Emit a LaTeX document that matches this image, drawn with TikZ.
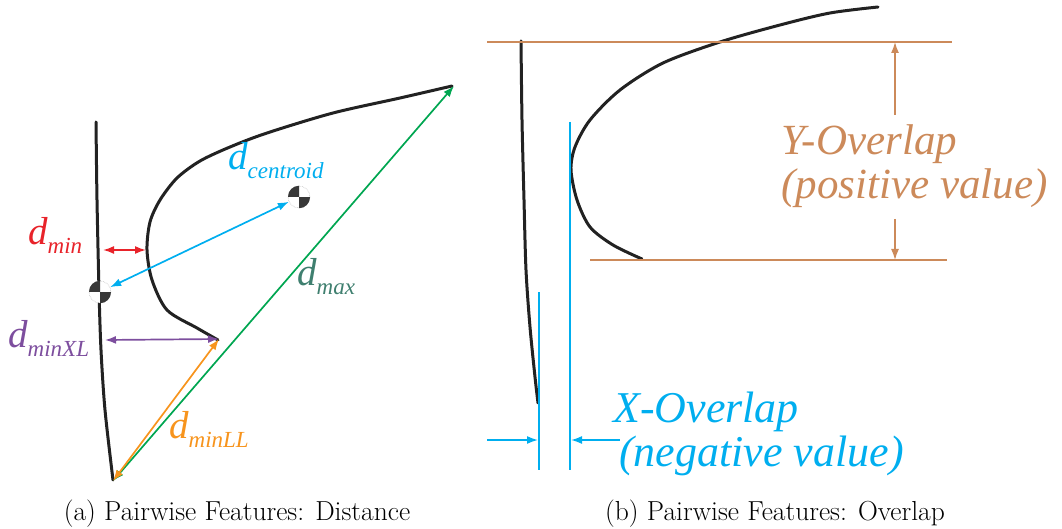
\documentclass[tikz,border=0pt]{standalone}
\usepackage{fontspec}
\usetikzlibrary{arrows.meta}
\newfontfamily\timesf{Liberation Serif}
\definecolor{dred}{HTML}{E8232A}
\definecolor{dcyan}{HTML}{00AEEF}
\definecolor{dgreen}{HTML}{00A651}
\definecolor{dteal}{HTML}{3F7F6F}
\definecolor{dorange}{HTML}{F7941D}
\definecolor{dpurple}{HTML}{7D4E9E}
\definecolor{ybrown}{HTML}{CC8A5A}
\definecolor{ink}{HTML}{222222}
\tikzset{
  stroke/.style={ink,line width=3pt,line cap=round},
  tip/.style={-{Latex[length=11pt,width=8pt]}},
  dim/.style={line width=1.7pt,{Latex[length=11pt,width=8pt]}-{Latex[length=11pt,width=8pt]}},
  lab/.style={anchor=base west,inner sep=0pt,font=\timesf\itshape\fontsize{39}{39}\selectfont},
  ovl/.style={anchor=base west,inner sep=0pt,font=\timesf\itshape\fontsize{#1}{#1}\selectfont},
  capt/.style={anchor=base,inner sep=0pt,font=\fontsize{27.5}{32}\selectfont},
  cmark/.style={circle,minimum size=22pt,inner sep=0pt,draw=gray!70,densely dotted,line width=.5pt,fill=white}
}
\newcommand\dlab[1]{d\raisebox{-9pt}{\fontsize{23}{23}\selectfont #1}}
\newcommand\quads[1]{\fill[ink!90](#1.center)--(#1.north)arc[start angle=90,end angle=180,radius=11pt]--cycle;
  \fill[ink!90](#1.center)--(#1.south)arc[start angle=270,end angle=360,radius=11pt]--cycle;}
\begin{document}
\begin{tikzpicture}[x=1pt,y=-1pt]
\useasboundingbox(0,0)rectangle(1062,529);
% (a) distance
\draw[stroke]plot[smooth]coordinates{(96,122)(97,200)(99,290)(101,350)(105,410)(113,480)};
\draw[stroke]plot[smooth]coordinates{(218,340)(197,328)(167,310)(152,280)(147,250)(150,222)(160,200)(177,178)(200,161)(230,147)(267,133)(333,113)(400,98)(452,86)};
\node[cmark](cA)at(100,292){};\quads{cA}
\node[cmark](cB)at(299,197){};\quads{cB}
\coordinate(minL)at(103,250);\coordinate(minR)at(146,250);
\coordinate(tipB)at(219,339);\coordinate(botA)at(113,481);\coordinate(topB)at(454,86);
\coordinate(xlL)at(105,340);
\draw[dim,dred](minL)--(minR);
\draw[dim,dcyan](cA)--(cB);
\draw[dim,dgreen](botA)--(topB);
\draw[dim,dorange](botA)--(tipB);
\draw[dim,dpurple](xlL)--(tipB);
\node[lab,dred](lmin)at(28,245){\dlab{min}};
\node[lab,dcyan](lcen)at(228,170){\dlab{centroid}};
\node[lab,dteal](lmax)at(297,285){\dlab{max}};
\node[lab,dpurple](lxl)at(8,347){\dlab{minXL}};
\node[lab,dorange](lll)at(169,438){\dlab{minLL}};
\node[capt](capa)at(237,520){(a) Pairwise Features: Distance};
% (b) overlap
\draw[stroke]plot[smooth]coordinates{(521,41)(522,120)(524,200)(526,270)(530,327)(535,377)(538,403)};
\draw[stroke]plot[smooth]coordinates{(642,259)(613,245)(590,227)(577,200)(571,170)(575,147)(590,120)(620,90)(663,63)(720,42)(780,25)(830,13)(878,7)};
\draw[ybrown,line width=1.4pt](487,42)--(952,42);
\draw[ybrown,line width=1.4pt](590,260)--(947,260);
\coordinate(yT)at(895,42);\coordinate(yB)at(895,260);
\coordinate(yu)at(895,115);\coordinate(yd)at(895,219);
\draw[ybrown,line width=1.4pt,tip](yu)--(yT);
\draw[ybrown,line width=1.4pt,tip](yd)--(yB);
\node[ovl=43,ybrown](yov1)at(781,155){Y-Overlap};
\node[ovl=43,ybrown](yov2)at(781,199){(positive value)};
\draw[dcyan,line width=2pt](570,122)--(570,470);
\draw[dcyan,line width=2pt](539,292)--(539,470);
\coordinate(xa)at(487,440);\coordinate(xb)at(538,440);
\coordinate(xc)at(620,440);\coordinate(xd)at(571,440);
\draw[dcyan,line width=1.6pt,tip](xa)--(xb);
\draw[dcyan,line width=1.6pt,tip](xc)--(xd);
\node[ovl=44,dcyan](xov1)at(613,422){X-Overlap};
\node[ovl=44,dcyan](xov2)at(619,466){(negative value)};
\node[capt](capb)at(775,520){(b) Pairwise Features: Overlap};
\end{tikzpicture}
\end{document}
